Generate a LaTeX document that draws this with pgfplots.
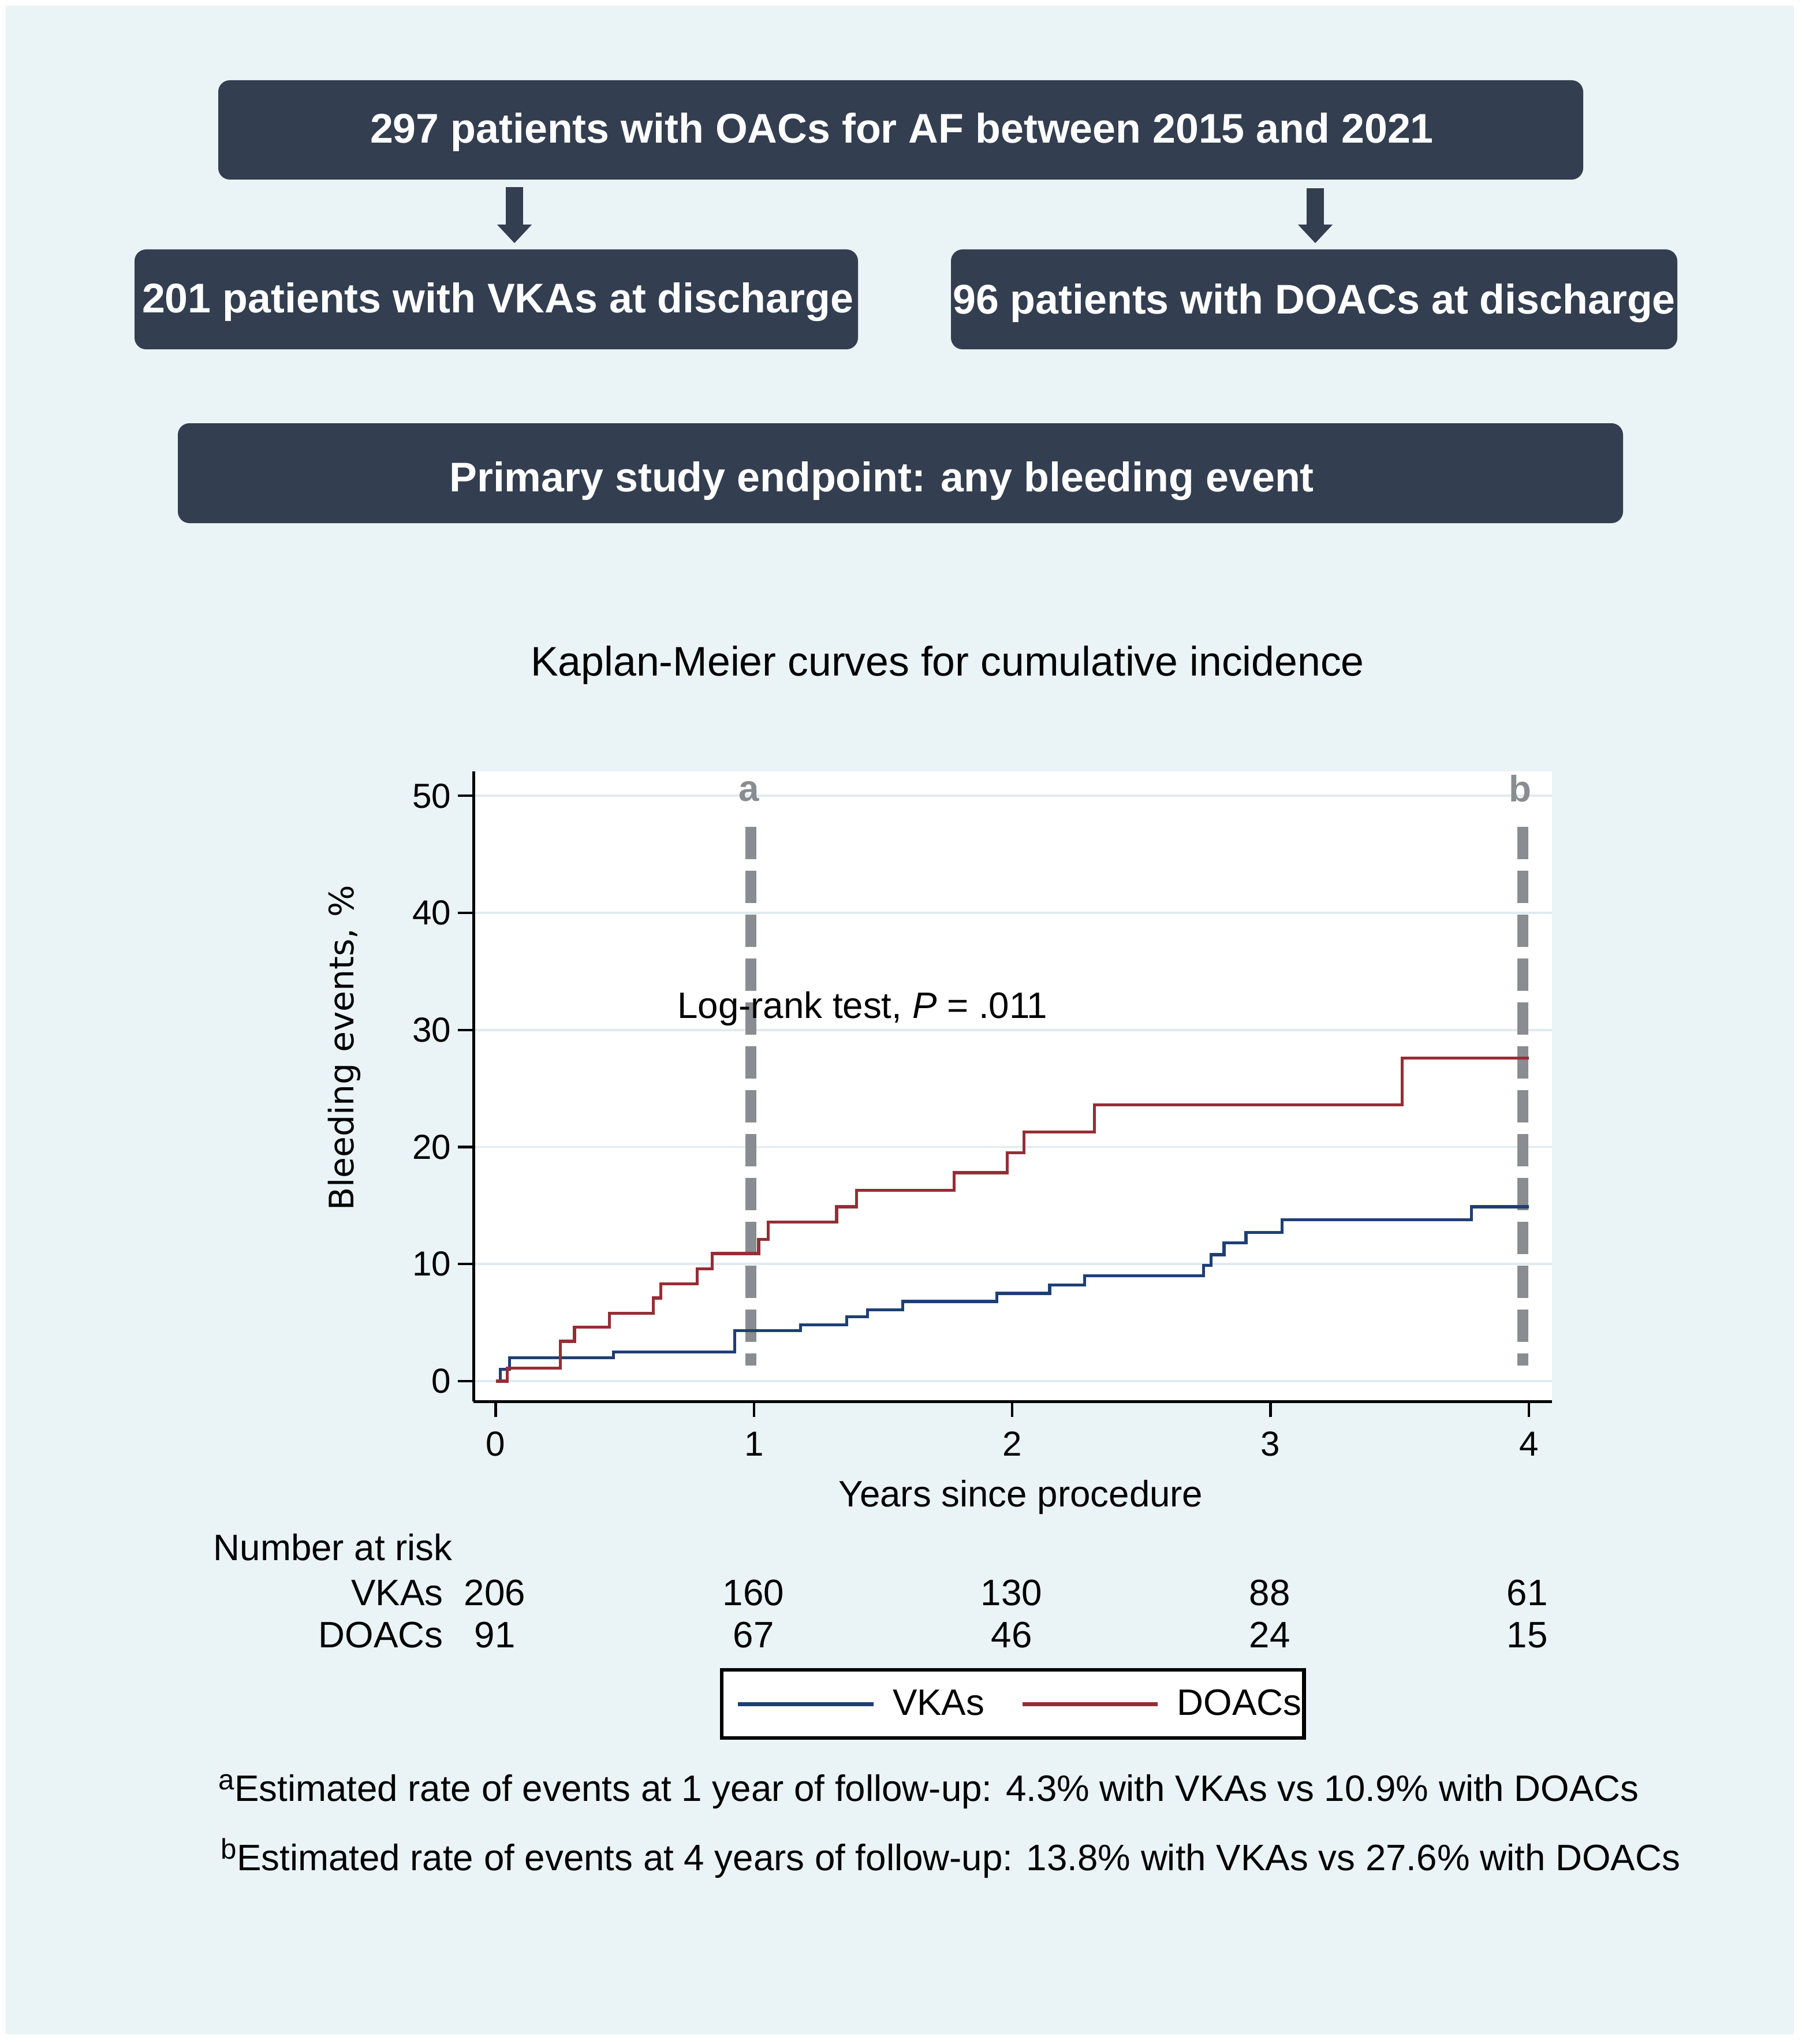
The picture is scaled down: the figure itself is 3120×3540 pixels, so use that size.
\documentclass[border=0pt]{standalone}
\usepackage{pgfplots}
\pgfplotsset{compat=1.18}
\usepackage{pgfplotstable}
\usepackage{fontspec}
\setmainfont{Liberation Sans}
\newfontfamily\dejavu{DejaVu Sans}
\newcommand\fs[1]{\fontsize{#1}{#1}\selectfont}

\definecolor{panel}{HTML}{EAF3F6}
\definecolor{boxc}{HTML}{333E50}
\definecolor{gridc}{HTML}{DFEBF0}
\definecolor{dashc}{HTML}{898C90}
\definecolor{vka}{HTML}{1E3F74}
\definecolor{doac}{HTML}{962D36}

% Kaplan-Meier steps, value holds from t to the next t
\pgfplotstableread{
t y
0 0
0.018 1.0
0.054 2.0
0.456 2.5
0.925 4.3
1.18 4.8
1.36 5.5
1.44 6.1
1.576 6.8
1.94 7.5
2.145 8.2
2.28 9.0
2.74 9.9
2.77 10.8
2.82 11.8
2.905 12.7
3.045 13.8
3.778 14.9
4.0 14.9
}\vkas

\pgfplotstableread{
t y
0 0
0.045 1.1
0.25 3.4
0.305 4.6
0.44 5.8
0.61 7.1
0.64 8.3
0.78 9.6
0.838 10.9
1.018 12.1
1.055 13.6
1.32 14.9
1.398 16.3
1.775 17.8
1.98 19.5
2.045 21.3
2.319 23.6
3.51 27.6
4.0 27.6
}\doacs

\begin{document}
\begin{tikzpicture}[x=0.01cm,y=-0.01cm]
\fill[white] (0,0) rectangle (3120,3540);
\fill[panel] (10,10) rectangle (3107,3523);

% flow chart
\fill[boxc, rounded corners=0.2cm] (378,139) rectangle (2742,311);
\fill[boxc, rounded corners=0.2cm] (233,432) rectangle (1486,605);
\fill[boxc, rounded corners=0.2cm] (1647,432) rectangle (2905,605);
\fill[boxc, rounded corners=0.2cm] (308,733) rectangle (2811,906);
\fill[boxc] (876,324) rectangle (906,389);
\fill[boxc] (861,389) -- (921,389) -- (891,421) -- cycle;
\fill[boxc] (2263,326) rectangle (2293,389);
\fill[boxc] (2248,389) -- (2308,389) -- (2278,421) -- cycle;
\begin{scope}[every node/.style={inner sep=0pt, anchor=base, text=white, font=\bfseries\fs{20.4}}]
\node at (1562,248) {297 patients with OACs for AF between 2015 and 2021};
\node at (862,542) {201 patients with VKAs at discharge};
\node at (2276,544) {96 patients with DOACs at discharge};
\node at (1527,851) {Primary study endpoint: any bleeding event};
\end{scope}

\node[inner sep=0pt, anchor=base, font=\fs{20.35}] at (1641,1170) {Kaplan-Meier curves for cumulative incidence};

\begin{axis}[
  at={(8.20cm,-24.26cm)}, anchor=south west,
  scale only axis, width=18.66cm, height=10.91cm,
  xmin=-0.085, xmax=4.089, ymin=-1.75, ymax=52.1,
  axis x line*=bottom, axis y line*=left, tick pos=left,
  axis line style={black, line width=1.2pt},
  xtick={0,1,2,3,4}, ytick={0,10,20,30,40,50},
  tick align=outside, major tick length=0.27cm,
  tick style={black, line width=1.2pt},
  ymajorgrids, major grid style={gridc, line width=1.1pt},
  axis background/.style={fill=white},
  /pgf/number format/assume math mode=true,
  tick label style={font=\fs{17.1}},
  xticklabel style={yshift=-0.13cm},
  clip=false,
  legend columns=2, legend cell align=left,
  legend style={at={(0.5,-0.4797)}, anchor=center, draw=black, line width=1.8pt,
    fill=white, inner xsep=0pt, inner ysep=0.34cm, column sep=0pt,
    nodes={inner sep=0pt}, font=\fs{18.1}},
  legend image code/.code={\path (0cm,-0.1cm) (2.60cm,0.1cm);
    \draw[#1, line width=2pt] (0.26cm,0cm) -- (2.60cm,0cm);},
]
\addplot[dashc, line width=5.4pt, dash pattern=on 15.9pt off 5.7pt, forget plot]
  coordinates {(0.988,47.35) (0.988,1.34)};
\addplot[dashc, line width=5.4pt, dash pattern=on 15.9pt off 5.7pt, forget plot]
  coordinates {(3.977,47.35) (3.977,1.34)};
\addplot[const plot, vka, line width=1.5pt] table[x=t, y=y] {\vkas};
\addlegendentry{\kern0.30cm VKAs\kern0.37cm}
\addplot[const plot, doac, line width=1.5pt] table[x=t, y=y] {\doacs};
\addlegendentry{\kern0.30cm DOACs\kern0.04cm}
\node[dashc, font=\bfseries\fs{18.1}, inner sep=0pt] at (axis cs:0.98,50.4) {a};
\node[dashc, font=\bfseries\fs{18.1}, inner sep=0pt] at (axis cs:3.966,50.6) {b};
\node[anchor=base west, inner sep=0pt, font=\fs{18.1}] at (axis cs:0.702,30.98) {Log-rank test, \textit{P} = .011};
\end{axis}

\node[inner sep=0pt, anchor=base, rotate=90, font=\dejavu\fs{16.6}] at (612,1815) {Bleeding events, \%};
\node[inner sep=0pt, anchor=base, font=\fs{18.1}] at (1768,2609) {Years since procedure};

\begin{scope}[every node/.style={inner sep=0pt, font=\fs{18.1}}]
\node[anchor=base west] at (369,2702) {Number at risk};
\node[anchor=base east] at (768,2780) {VKAs};
\node[anchor=base east] at (768,2853) {DOACs};
\node[anchor=base] at (857,2780) {206};
\node[anchor=base] at (1305,2780) {160};
\node[anchor=base] at (1752,2780) {130};
\node[anchor=base] at (2199,2780) {88};
\node[anchor=base] at (2645,2780) {61};
\node[anchor=base] at (857,2853) {91};
\node[anchor=base] at (1305,2853) {67};
\node[anchor=base] at (1752,2853) {46};
\node[anchor=base] at (2199,2853) {24};
\node[anchor=base] at (2645,2853) {15};
\node[anchor=base west] at (378,3119) {\raisebox{0.2cm}{\fs{14}a}Estimated rate of events at 1 year of follow-up: 4.3\% with VKAs vs 10.9\% with DOACs};
\node[anchor=base west] at (382,3239) {\raisebox{0.2cm}{\fs{14}b}Estimated rate of events at 4 years of follow-up: 13.8\% with VKAs vs 27.6\% with DOACs};
\end{scope}

\pgfresetboundingbox
\useasboundingbox (0,0) rectangle (3120,3540);
\end{tikzpicture}
\end{document}
